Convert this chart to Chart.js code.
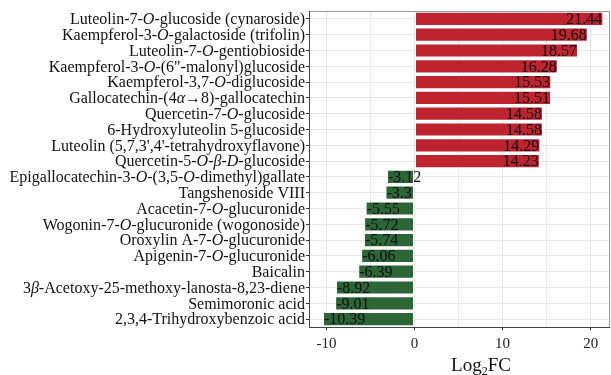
<!DOCTYPE html>
<html>
<head>
<meta charset="utf-8">
<script src="https://cdn.jsdelivr.net/npm/chart.js@4.4.1/dist/chart.umd.min.js"></script>
<style>
  html, body { margin: 0; padding: 0; background: #fff; }
</style>
</head>
<body>
<canvas id="fc-chart" width="611" height="375"></canvas>
<script>
// compound names, parts wrapped in *...* are drawn in italic
const compounds = [
  'Luteolin-7-*O*-glucoside (cynaroside)',
  'Kaempferol-3-*O*-galactoside (trifolin)',
  'Luteolin-7-*O*-gentiobioside',
  'Kaempferol-3-*O*-(6"-malonyl)glucoside',
  'Kaempferol-3,7-*O*-diglucoside',
  'Gallocatechin-(4*α*→8)-gallocatechin',
  'Quercetin-7-*O*-glucoside',
  '6-Hydroxyluteolin 5-glucoside',
  "Luteolin (5,7,3',4'-tetrahydroxyflavone)",
  'Quercetin-5-*O*-*β*-*D*-glucoside',
  'Epigallocatechin-3-*O*-(3,5-*O*-dimethyl)gallate',
  'Tangshenoside VIII',
  'Acacetin-7-*O*-glucuronide',
  'Wogonin-7-*O*-glucuronide (wogonoside)',
  'Oroxylin A-7-*O*-glucuronide',
  'Apigenin-7-*O*-glucuronide',
  'Baicalin',
  '3*β*-Acetoxy-25-methoxy-lanosta-8,23-diene',
  'Semimoronic acid',
  '2,3,4-Trihydroxybenzoic acid'
];
const log2fc = [21.44, 19.68, 18.57, 16.28, 15.53, 15.51, 14.58, 14.58, 14.29, 14.23,
  -3.12, -3.3, -5.55, -5.72, -5.74, -6.06, -6.39, -8.92, -9.01, -10.39];
const xTicks = [-10, -5, 0, 5, 10, 15, 20];
const xTickLabels = [-10, 0, 10, 20];

const SERIF = '"Liberation Serif", "Times New Roman", serif';
const UP_COLOR = '#BE242F';
const DOWN_COLOR = '#2D6636';

function drawRich(ctx, text, xRight, y, size) {
  const parts = text.split('*');
  let total = 0;
  parts.forEach((p, i) => {
    ctx.font = (i % 2 ? 'italic ' : '') + size + 'px ' + SERIF;
    total += ctx.measureText(p).width;
  });
  let x = xRight - total;
  parts.forEach((p, i) => {
    ctx.font = (i % 2 ? 'italic ' : '') + size + 'px ' + SERIF;
    ctx.fillText(p, x, y);
    x += ctx.measureText(p).width;
  });
}

const labelsPlugin = {
  id: 'labels',
  afterDraw(chart) {
    const ctx = chart.ctx;
    const area = chart.chartArea;
    const yScale = chart.scales.y;
    ctx.save();
    ctx.fillStyle = '#111';
    ctx.textBaseline = 'middle';
    ctx.textAlign = 'left';
    compounds.forEach((name, i) => {
      drawRich(ctx, name, area.left - 4, yScale.getPixelForValue(i) + 1, 16);
    });

    // value labels at bar ends
    const meta = chart.getDatasetMeta(0);
    ctx.font = '16px ' + SERIF;
    meta.data.forEach((bar, i) => {
      const v = log2fc[i];
      ctx.textAlign = v >= 0 ? 'right' : 'left';
      ctx.fillText(String(v), v >= 0 ? bar.x - 1 : bar.x + 1, bar.y + 1);
    });

    // panel border
    ctx.lineWidth = 1;
    ctx.strokeStyle = '#999';
    ctx.strokeRect(area.left + 0.5, area.top + 0.5, area.right - area.left - 1, area.bottom - area.top);
    ctx.strokeStyle = '#444';
    ctx.beginPath();
    ctx.moveTo(area.left + 0.5, area.top);
    ctx.lineTo(area.left + 0.5, area.bottom + 0.5);
    ctx.lineTo(area.right, area.bottom + 0.5);
    ctx.stroke();

    // axis title Log2FC
    ctx.fillStyle = '#111';
    ctx.textAlign = 'left';
    ctx.textBaseline = 'alphabetic';
    ctx.font = '19px ' + SERIF;
    const w1 = ctx.measureText('Log').width;
    const w3 = ctx.measureText('FC').width;
    ctx.font = '12px ' + SERIF;
    const w2 = ctx.measureText('2').width;
    let x = 481 - (w1 + w2 + w3) / 2;
    const base = 371;
    ctx.font = '19px ' + SERIF;
    ctx.fillText('Log', x, base);
    x += w1;
    ctx.font = '12px ' + SERIF;
    ctx.fillText('2', x, base + 4);
    x += w2;
    ctx.font = '19px ' + SERIF;
    ctx.fillText('FC', x, base);
    ctx.restore();
  }
};

const ctx = document.getElementById('fc-chart').getContext('2d');

new Chart(ctx, {
  type: 'bar',
  data: {
    labels: compounds,
    datasets: [{
      data: log2fc,
      backgroundColor: log2fc.map(v => v >= 0 ? UP_COLOR : DOWN_COLOR),
      borderColor: 'rgba(255, 255, 255, 0.75)',
      borderWidth: 1,
      borderSkipped: false,
      barPercentage: 0.9,
      categoryPercentage: 1.0
    }]
  },
  options: {
    indexAxis: 'y',
    responsive: false,
    animation: false,
    devicePixelRatio: 1,
    layout: {
      padding: { top: 11, right: 1, left: 0, bottom: 0 }
    },
    plugins: {
      legend: { display: false },
      tooltip: { enabled: false }
    },
    scales: {
      x: {
        type: 'linear',
        min: -11.98,
        max: 22.2,
        afterBuildTicks: function(scale) {
          scale.ticks = xTicks.map(v => ({ value: v }));
        },
        afterFit: function(scale) {
          scale.height = 48;
        },
        grid: {
          color: '#E6E6E6',
          tickColor: function(c) {
            return c.tick && xTickLabels.includes(c.tick.value) ? '#333' : 'rgba(0,0,0,0)';
          },
          tickLength: 3
        },
        border: { display: false },
        ticks: {
          color: '#222',
          padding: 5,
          maxRotation: 0,
          font: { family: SERIF, size: 15 },
          callback: function(value) {
            return xTickLabels.includes(value) ? String(value) : '';
          }
        }
      },
      y: {
        type: 'category',
        offset: true,
        afterFit: function(scale) {
          scale.width = 309;
        },
        grid: {
          offset: false,
          color: '#E6E6E6',
          tickColor: '#333',
          tickLength: 3
        },
        border: { display: false },
        ticks: { display: false }
      }
    }
  },
  plugins: [labelsPlugin]
});
</script>
</body>
</html>
